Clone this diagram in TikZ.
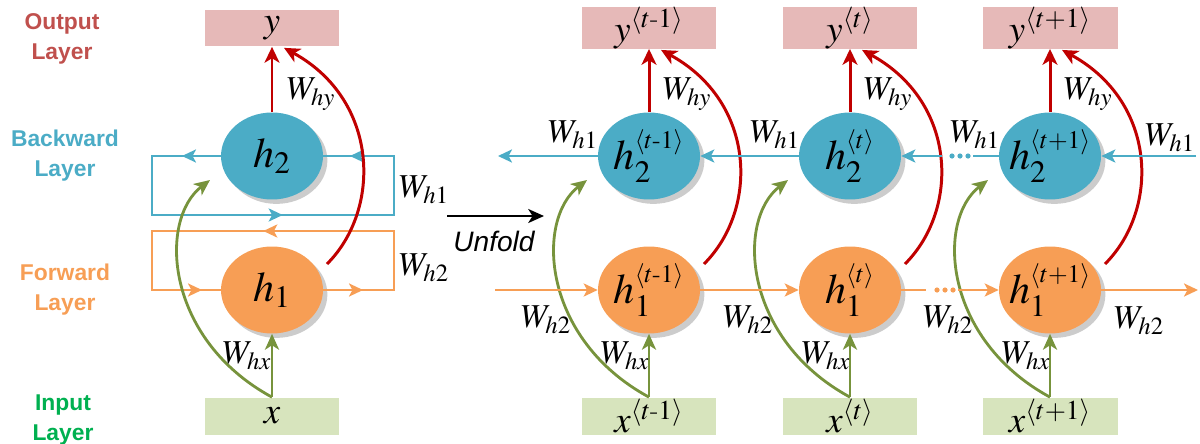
\documentclass[tikz,border=0pt]{standalone}
\usepackage{amsmath}
\usepackage{mathptmx}
\usepackage[no-math]{fontspec}
\newfontfamily\lyrfont{Liberation Sans}
\newfontfamily\unffont{Liberation Sans}
\usetikzlibrary{arrows.meta,calc,shadows,shapes.geometric}
\definecolor{OutRed}{RGB}{192,80,77}
\definecolor{OutFill}{RGB}{230,185,184}
\definecolor{InFill}{RGB}{215,228,189}
\definecolor{InGreen}{RGB}{0,176,80}
\definecolor{HBlue}{RGB}{75,172,198}
\definecolor{HOrange}{RGB}{247,158,85}
\definecolor{ArrRed}{RGB}{192,0,0}
\definecolor{ArrGreen}{RGB}{119,147,60}
\newcommand{\hlbl}[1]{\makebox[0pt]{#1}}

\begin{document}
\begin{tikzpicture}[
  x=0.02cm, y=-0.02cm,
  lyr/.style={font=\lyrfont\bfseries\fontsize{13}{17}\selectfont, align=center},
  outbox/.style={fill=OutFill, minimum width=2.7cm, minimum height=0.74cm,
    inner sep=0pt, font=\fontsize{21}{24}\selectfont},
  inbox/.style={fill=InFill, minimum width=2.7cm, minimum height=0.74cm,
    inner sep=0pt, font=\fontsize{21}{24}\selectfont},
  hnode/.style={ellipse, minimum width=2.04cm, minimum height=1.74cm, inner sep=0pt,
    font=\fontsize{24}{28}\selectfont,
    drop shadow={fill=black, opacity=0.2, shadow xshift=2.5pt, shadow yshift=-2.5pt}},
  hb/.style={hnode, fill=HBlue},
  hf/.style={hnode, fill=HOrange},
  wlbl/.style={font=\fontsize{19}{22}\selectfont, inner sep=0pt},
  redarr/.style={draw=ArrRed, line width=1.7pt,
    -{Stealth[length=9pt, width=8.5pt, inset=2.5pt]}},
  grnarr/.style={draw=ArrGreen, line width=1.6pt,
    -{Stealth[length=9pt, width=8pt, inset=2.5pt]}},
  bline/.style={draw=HBlue, line width=1.1pt},
  fline/.style={draw=HOrange, line width=1.1pt},
  barr/.style={bline, -{Stealth[length=8pt, width=7.5pt, inset=2pt]}},
  farr/.style={fline, -{Stealth[length=8pt, width=7.5pt, inset=2pt]}},
]
\useasboundingbox (0,0) rectangle (1200,443);

% layer names
\node[lyr, text=OutRed]  (outlyr) at (62,39)   {Output\\Layer};
\node[lyr, text=HBlue]   (bwdlyr) at (65,156)  {Backward\\Layer};
\node[lyr, text=HOrange] (fwdlyr) at (65,290)  {Forward\\Layer};
\node[lyr, text=InGreen] (inlyr)  at (63,420)  {Input\\Layer};

% folded network
\node[outbox] (yL)  at (272,28)  {$y$};
\node[hb]     (h2L) at (272,156) {$h_2$};
\node[hf]     (h1L) at (272,290) {$h_1$};
\node[inbox]  (xL)  at (272,416) {$x$};

\coordinate (bl1) at (152,156);
\coordinate (bl2) at (152,215);
\coordinate (bl3) at (394,215);
\coordinate (bl4) at (394,156);
\draw[bline] (h2L.west) -- (bl1) -- (bl2) -- (bl3) -- (bl4) -- (h2L.east);
\draw[barr] (h2L.west) -- ($(bl1)+(30,0)$);
\draw[barr] (bl2) -- ($(bl2)!0.54!(bl3)$);
\draw[barr] (bl4) -- ($(bl4)+(-44,0)$);

\coordinate (fl1) at (394,290);
\coordinate (fl2) at (394,231);
\coordinate (fl3) at (152,231);
\coordinate (fl4) at (152,290);
\draw[fline] (h1L.east) -- (fl1) -- (fl2) -- (fl3) -- (fl4) -- (h1L.west);
\draw[farr] (h1L.east) -- ($(fl1)+(-31,0)$);
\draw[farr] (fl2) -- ($(fl2)!0.54!(fl3)$);
\draw[farr] (fl4) -- ($(fl4)+(50,0)$);

\draw[redarr] (h2L.north) -- (yL.south);
\draw[redarr] ($(h1L)+(55,-26)$) .. controls +(55,-55) and +(95,52) .. ($(yL.south)+(12,1)$);
\draw[grnarr] (xL.north) -- (h1L.south);
\draw[grnarr] (xL.north) .. controls +(-107,-58) and +(-52,40) .. ($(h2L)+(-62,24)$);

\node[wlbl] (whyL) at (311,94)  {$W_{hy}$};
\node[wlbl] (whxL) at (247,356) {$W_{hx}$};
\node[wlbl] (wh1L) at (424,190) {$W_{h1}$};
\node[wlbl] (wh2L) at (424,268) {$W_{h2}$};

% unfold
\coordinate (unfA) at (447,216);
\coordinate (unfB) at (544,216);
\draw[line width=1.2pt, -{Stealth[length=9pt, width=8pt, inset=2.5pt]}] (unfA) -- (unfB);
\node[font=\unffont\itshape\fontsize{16}{18}\selectfont] (unflbl) at (494,241) {Unfold};

% unfolded network
\foreach \c/\n/\s in {649/a/t\text{-}1, 850/b/t, 1050/c/t+1}{
  \node[outbox] (y\n)  at (\c,28)  {$y^{\langle \s\rangle}$};
  \node[hb]     (h2\n) at (\c,156) {\hlbl{$h_2^{\scriptscriptstyle\langle \s\rangle}$}};
  \node[hf]     (h1\n) at (\c,290) {\hlbl{$h_1^{\scriptscriptstyle\langle \s\rangle}$}};
  \node[inbox]  (x\n)  at (\c,416) {$x^{\langle \s\rangle}$};
  \draw[redarr] (h2\n.north) -- (y\n.south);
  \draw[redarr] ($(h1\n)+(55,-26)$) .. controls +(55,-55) and +(95,52) .. ($(y\n.south)+(12,1)$);
  \draw[grnarr] (x\n.north) -- (h1\n.south);
  \draw[grnarr] (x\n.north) .. controls +(-107,-58) and +(-52,40) .. ($(h2\n)+(-62,24)$);
  \node[wlbl] (why\n) at (\c+38,94)  {$W_{hy}$};
  \node[wlbl] (whx\n) at (\c-24,356) {$W_{hx}$};
}

% backward chain
\coordinate (bstart) at (498,156);
\coordinate (bend)   at (1196,156);
\coordinate (bgap1)  at (973,156);
\coordinate (bgap2)  at (942,156);
\draw[barr] (bend) -- (h2c);
\draw[bline] (h2c) -- (bgap1);
\draw[barr] (bgap2) -- (h2b);
\draw[barr] (h2b) -- (h2a);
\draw[barr] (h2a) -- (bstart);
\foreach \d in {952,960,968} \fill[HBlue] (\d,156) circle (2.6);

\node[wlbl] (wh1a) at (573,135)  {$W_{h1}$};
\node[wlbl] (wh1b) at (775,135)  {$W_{h1}$};
\node[wlbl] (wh1c) at (975,135)  {$W_{h1}$};
\node[wlbl] (wh1d) at (1170,138) {$W_{h1}$};

% forward chain
\coordinate (fstart) at (495,290);
\coordinate (fend)   at (1198,290);
\coordinate (fgap1)  at (926,290);
\coordinate (fgap2)  at (958,290);
\draw[farr] (fstart) -- (h1a);
\draw[farr] (h1a) -- (h1b);
\draw[fline] (h1b) -- (fgap1);
\draw[farr] (fgap2) -- (h1c);
\draw[farr] (h1c) -- (fend);
\foreach \d in {937,945,953} \fill[HOrange] (\d,290) circle (2.6);

\node[wlbl] (wh2a) at (546,320)  {$W_{h2}$};
\node[wlbl] (wh2b) at (748,320)  {$W_{h2}$};
\node[wlbl] (wh2c) at (948,320)  {$W_{h2}$};
\node[wlbl] (wh2d) at (1139,321) {$W_{h2}$};
\end{tikzpicture}
\end{document}
